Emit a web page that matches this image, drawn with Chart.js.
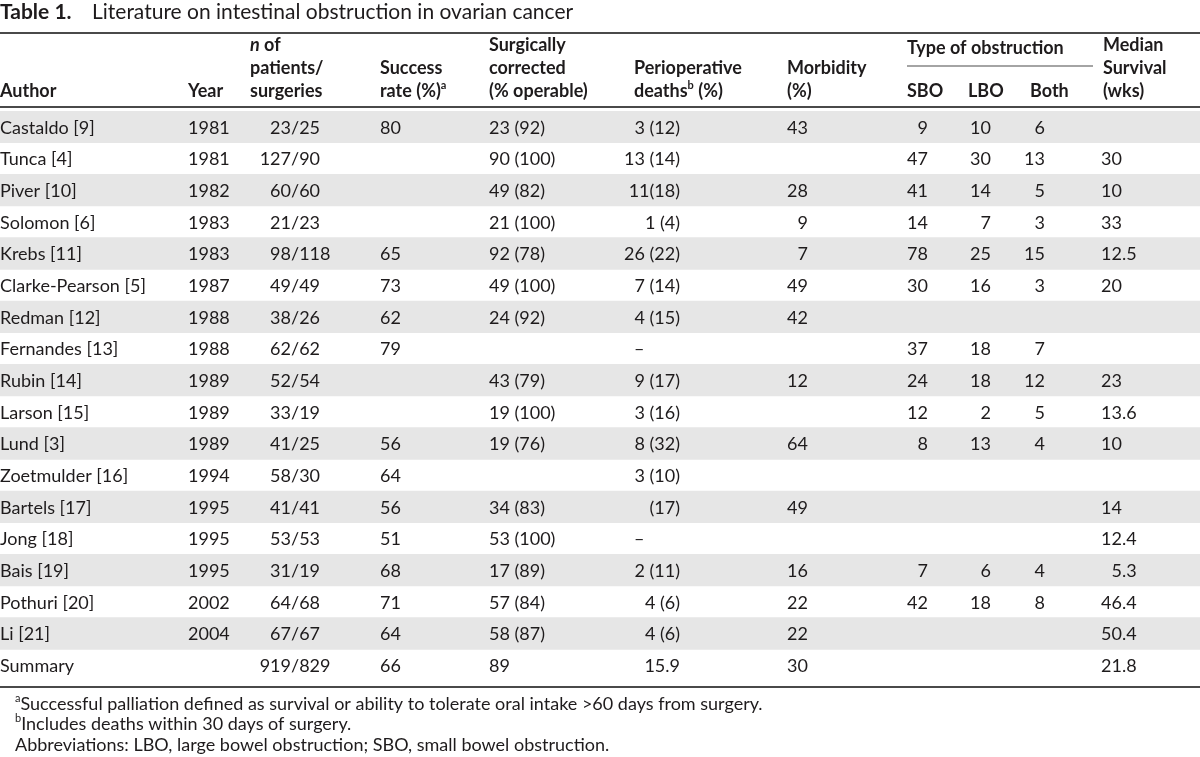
<!DOCTYPE html>
<html>
<head>
<meta charset="utf-8">
<script src="https://cdn.jsdelivr.net/npm/chart.js@4"></script>
<style>
  body { margin: 0; background: #fff; }
  #wrap { width: 1200px; height: 757px; position: relative; }
</style>
</head>
<body>
<div id="wrap"><canvas id="myChart"></canvas></div>
<script>
var authors = ["Castaldo [9]", "Tunca [4]", "Piver [10]", "Solomon [6]", "Krebs [11]", "Clarke-Pearson [5]",
    "Redman [12]", "Fernandes [13]", "Rubin [14]", "Larson [15]", "Lund [3]", "Zoetmulder [16]",
    "Bartels [17]", "Jong [18]", "Bais [19]", "Pothuri [20]", "Li [21]", "Summary"]
var years = ["1981", "1981", "1982", "1983", "1983", "1987", "1988", "1988", "1989", "1989", "1989", "1994",
    "1995", "1995", "1995", "2002", "2004", ""]
var patients = ["23/25", "127/90", "60/60", "21/23", "98/118", "49/49", "38/26", "62/62", "52/54", "33/19",
    "41/25", "58/30", "41/41", "53/53", "31/19", "64/68", "67/67", "919/829"]
var success = ["80", "", "", "", "65", "73", "62", "79", "", "", "56", "64", "56", "51", "68", "71", "64", "66"]
var corrected = ["23 (92)", "90 (100)", "49 (82)", "21 (100)", "92 (78)", "49 (100)", "24 (92)", "", "43 (79)",
    "19 (100)", "19 (76)", "", "34 (83)", "53 (100)", "17 (89)", "57 (84)", "58 (87)", "89"]
var deaths = ["3 (12)", "13 (14)", "11(18)", "1 (4)", "26 (22)", "7 (14)", "4 (15)", "–", "9 (17)", "3 (16)",
    "8 (32)", "3 (10)", "(17)", "–", "2 (11)", "4 (6)", "4 (6)", "15.9"]
var morbidity = ["43", "", "28", "9", "7", "49", "42", "", "12", "", "64", "", "49", "", "16", "22", "22", "30"]
var sbo = ["9", "47", "41", "14", "78", "30", "", "37", "24", "12", "8", "", "", "", "7", "42", "", ""]
var lbo = ["10", "30", "14", "7", "25", "16", "", "18", "18", "2", "13", "", "", "", "6", "18", "", ""]
var both = ["6", "13", "5", "3", "15", "3", "", "7", "12", "5", "4", "", "", "", "4", "8", "", ""]
var survival = ["", "30", "10", "33", "12.5", "20", "", "", "23", "13.6", "10", "", "14", "12.4", "5.3", "46.4",
    "50.4", "21.8"]

var titleLabel = "Table 1."
var titleText = "Literature on intestinal obstruction in ovarian cancer"
var footnotes = [
    [{ t: "a", sup: true }, { t: "Successful palliation defined as survival or ability to tolerate oral intake >60 days from surgery." }],
    [{ t: "b", sup: true }, { t: "Includes deaths within 30 days of surgery." }],
    [{ t: "Abbreviations: LBO, large bowel obstruction; SBO, small bowel obstruction." }]
]

// header lines, bottom aligned (last entry sits on the lowest line)
var headers = [
    { x: 0, lines: [[{ t: "Author" }]] },
    { x: 188, lines: [[{ t: "Year" }]] },
    { x: 250, lines: [[{ t: "n", it: true }, { t: " of" }], [{ t: "patients/" }], [{ t: "surgeries" }]] },
    { x: 380, lines: [[{ t: "Success" }], [{ t: "rate (%)" }, { t: "a", sup: true }]] },
    { x: 489, lines: [[{ t: "Surgically" }], [{ t: "corrected" }], [{ t: "(% operable)" }]] },
    { x: 634, lines: [[{ t: "Perioperative" }], [{ t: "deaths" }, { t: "b", sup: true }, { t: " (%)" }]] },
    { x: 787, lines: [[{ t: "Morbidity" }], [{ t: "(%)" }]] },
    { x: 907, lines: [[{ t: "SBO" }]] },
    { x: 968, lines: [[{ t: "LBO" }]] },
    { x: 1030, lines: [[{ t: "Both" }]] },
    { x: 1103, lines: [[{ t: "Median" }], [{ t: "Survival" }], [{ t: "(wks)" }]] }
]
var groupHeader = { t: "Type of obstruction", x: 907, x2: 1093 }

var columns = [
    { data: authors, x: 0, align: 'left' },
    { data: years, x: 188, align: 'left' },
    { data: patients, x: 291, align: 'char', ch: '/' },
    { data: success, x: 380, align: 'left' },
    { data: corrected, x: 489, align: 'left' },
    { data: deaths, x: 680, align: 'right', dashX: 634 },
    { data: morbidity, x: 808, align: 'right' },
    { data: sbo, x: 928, align: 'right' },
    { data: lbo, x: 991, align: 'right' },
    { data: both, x: 1045, align: 'right' },
    { data: survival, x: 1122, align: 'char', ch: '.' }
]

var FONT = "Lato, 'Noto Sans', sans-serif"
var INK = "#1e1b1c"
var SIZE = 18

function font(seg, size, bold) {
    var s = seg.sup ? Math.round(size * 0.62) : size
    return (seg.it ? "italic " : "") + (bold ? "bold " : "") + s + "px " + FONT
}

function drawRuns(ctx, segs, x, y, size, bold) {
    ctx.textAlign = 'left'
    ctx.textBaseline = 'alphabetic'
    for (var i = 0; i < segs.length; i++) {
        var seg = segs[i]
        ctx.font = font(seg, size, bold)
        ctx.fillText(seg.t, x, seg.sup ? y - size * 0.42 : y)
        x += ctx.measureText(seg.t).width
    }
}

var tablePlugin = {
    id: 'tableText',
    afterDatasetsDraw: function (chart) {
        var ctx = chart.ctx
        var xs = chart.scales.x
        var ys = chart.scales.y
        ctx.save()
        ctx.fillStyle = INK

        // title
        ctx.font = "bold 21px " + FONT
        ctx.textBaseline = 'alphabetic'
        ctx.textAlign = 'left'
        ctx.fillText(titleLabel, 0, 19)
        ctx.font = "21px " + FONT
        ctx.fillText(titleText, 92, 19)

        // rules
        ctx.strokeStyle = "#4a4a4a"
        ctx.lineWidth = 2
        var rules = [33, 107, ys.getPixelForValue(authors.length - 1) + ys.height / authors.length / 2 + 6]
        rules.forEach(function (ry) {
            ctx.beginPath()
            ctx.moveTo(xs.getPixelForValue(0), ry)
            ctx.lineTo(xs.getPixelForValue(1200), ry)
            ctx.stroke()
        })
        ctx.lineWidth = 1.2
        ctx.beginPath()
        ctx.moveTo(xs.getPixelForValue(groupHeader.x), 66)
        ctx.lineTo(xs.getPixelForValue(groupHeader.x2), 66)
        ctx.stroke()

        // headers
        var lineY = [51, 74, 97]
        headers.forEach(function (h) {
            var off = lineY.length - h.lines.length
            h.lines.forEach(function (ln, i) {
                drawRuns(ctx, ln, xs.getPixelForValue(h.x), lineY[off + i], SIZE, true)
            })
        })
        drawRuns(ctx, [{ t: groupHeader.t }], xs.getPixelForValue(groupHeader.x), 54, SIZE, true)

        // body cells
        ctx.font = SIZE + "px " + FONT
        ctx.textBaseline = 'middle'
        columns.forEach(function (col) {
            col.data.forEach(function (v, i) {
                if (!v) return
                var y = ys.getPixelForValue(i) + 1
                var x = xs.getPixelForValue(col.x)
                if (v === '–' && col.dashX !== undefined) {
                    ctx.textAlign = 'left'
                    ctx.fillText(v, xs.getPixelForValue(col.dashX), y)
                } else if (col.align === 'char') {
                    var k = v.indexOf(col.ch)
                    if (k < 0) {
                        ctx.textAlign = 'right'
                        ctx.fillText(v, x, y)
                    } else {
                        ctx.textAlign = 'right'
                        ctx.fillText(v.slice(0, k), x, y)
                        ctx.textAlign = 'left'
                        ctx.fillText(v.slice(k), x, y)
                    }
                } else {
                    ctx.textAlign = col.align
                    ctx.fillText(v, x, y)
                }
            })
        })

        // footnotes
        var fy = [710, 730, 751]
        footnotes.forEach(function (f, i) {
            drawRuns(ctx, f, 15, fy[i], 18, false)
        })
        ctx.restore()
    }
}

function Graphic() {
    var ctx = document.getElementById('myChart')
    new Chart(ctx, {
        type: 'bar',
        data: {
            labels: authors,
            datasets: [{
                label: 'shade',
                data: authors.map(function (a, i) { return (i % 2 === 0 && i < authors.length - 1) ? [0, 1200] : null }),
                backgroundColor: '#e6e6e6',
                borderWidth: 0,
                barPercentage: 1,
                categoryPercentage: 1
            }]
        },
        options: {
            indexAxis: 'y',
            responsive: true,
            maintainAspectRatio: false,
            animation: false,
            events: [],
            layout: { padding: { top: 111, bottom: 76, left: 0, right: 0 } },
            scales: {
                x: { type: 'linear', min: 0, max: 1200, display: false },
                y: { type: 'category', display: false, offset: true, grid: { display: false } }
            },
            plugins: {
                legend: { display: false },
                tooltip: { enabled: false },
                title: { display: false }
            }
        },
        plugins: [tablePlugin]
    })
}

window.addEventListener("load", Graphic)
</script>
</body>
</html>
